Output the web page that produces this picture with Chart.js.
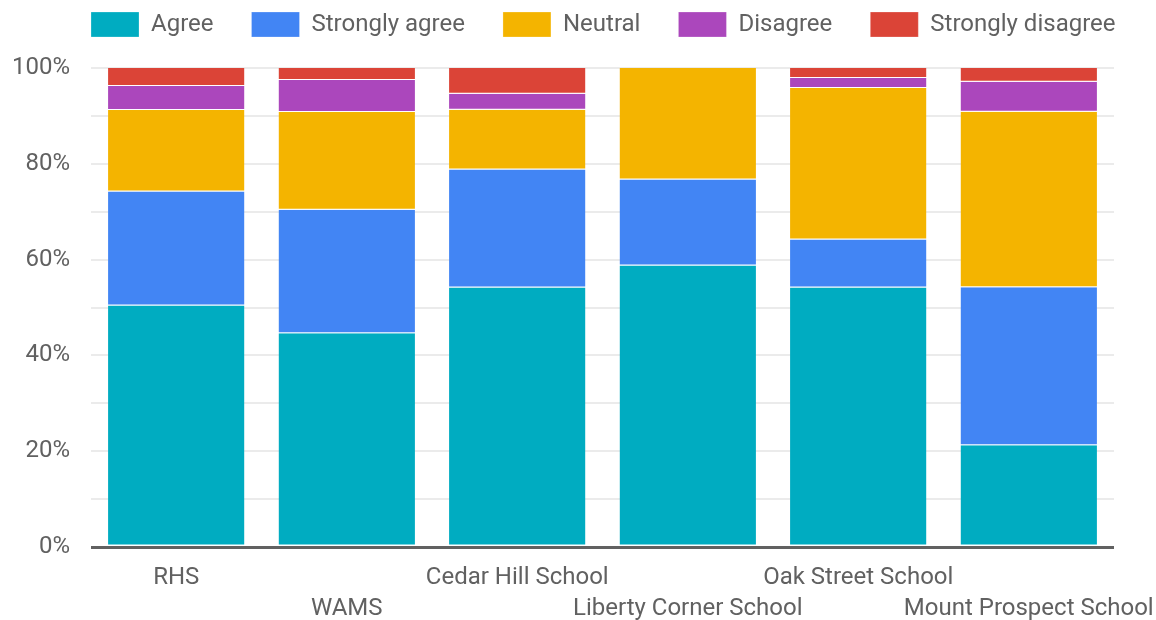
<!DOCTYPE html>
<html>
<head>
<meta charset="utf-8">
<script src="https://cdn.jsdelivr.net/npm/chart.js@4"></script>
<style>
  html, body { margin: 0; padding: 0; background: #fff; }
  #wrap { width: 1156px; height: 620px; }
</style>
</head>
<body>
<div id="wrap"><canvas id="grafico"></canvas></div>
<script>
// datos
var escuelas = ['RHS', 'WAMS', 'Cedar Hill School', 'Liberty Corner School', 'Oak Street School', 'Mount Prospect School'];
var agree = [50.4, 44.6, 54.2, 58.75, 54.2, 21.25];
var stronglyAgree = [23.8, 25.8, 24.6, 17.95, 10.0, 33.0];
var neutral = [17.05, 20.4, 12.5, 23.3, 31.6, 36.6];
var disagree = [5.0, 6.7, 3.35, 0, 2.1, 6.3];
var stronglyDisagree = [3.75, 2.5, 5.4, 0, 2.1, 2.9];
var yTicks = [0, 20, 40, 60, 80, 100];

var gris = '#616161';
Chart.defaults.font.family = 'Roboto';
Chart.defaults.font.size = 24;
Chart.defaults.color = gris;

function serie(label, data, color) {
    return {
        label: label,
        data: data,
        backgroundColor: color,
        borderColor: '#ffffff',
        borderWidth: { top: 0, bottom: 1, left: 0, right: 0 },
        borderSkipped: false,
        barPercentage: 0.8,
        categoryPercentage: 1.0
    };
}

// ajusta la altura y la posicion de la leyenda (una sola fila)
var ajusteLeyenda = {
    id: 'ajusteLeyenda',
    beforeInit: function (chart) {
        var fit = chart.legend.fit;
        chart.legend.fit = function () {
            this.maxWidth = 3000;
            fit.bind(chart.legend)();
            this.height = 94;
        };
    },
    afterLayout: function (chart) {
        chart.legend.left = 53;
        chart.legend.right = 1400;
        chart.legend.width = 1347;
    }
};

var ctx = document.getElementById('grafico').getContext('2d');
new Chart(ctx, {
    type: 'bar',
    data: {
        labels: escuelas,
        datasets: [
            serie('Agree', agree, '#00ACC1'),
            serie('Strongly agree', stronglyAgree, '#4285F4'),
            serie('Neutral', neutral, '#F4B400'),
            serie('Disagree', disagree, '#AB47BC'),
            serie('Strongly disagree', stronglyDisagree, '#DB4437')
        ]
    },
    plugins: [ajusteLeyenda],
    options: {
        responsive: true,
        maintainAspectRatio: false,
        animation: false,
        layout: { padding: { top: -26, left: 0, right: 42, bottom: 0 } },
        plugins: {
            legend: {
                position: 'top',
                align: 'start',
                labels: { boxWidth: 48, boxHeight: 25, padding: 38, color: gris }
            },
            tooltip: { enabled: false }
        },
        scales: {
            x: {
                stacked: true,
                grid: { display: false, drawTicks: false },
                border: { display: false },
                ticks: {
                    maxRotation: 0,
                    autoSkip: false,
                    padding: 15,
                    font: { lineHeight: 1.3 },
                    callback: function (v, i) {
                        var t = escuelas[i];
                        return i % 2 === 1 ? ['', t] : t;
                    }
                },
                afterFit: function (scale) {
                    scale.height = 73;
                    scale.paddingLeft = 0;
                    scale.paddingRight = 0;
                }
            },
            y: {
                stacked: true,
                min: 0,
                max: 100,
                border: { display: false },
                grid: {
                    drawTicks: false,
                    color: function (c) { return c.tick && c.tick.value === 0 ? gris : '#ebebeb'; },
                    lineWidth: function (c) { return c.tick && c.tick.value === 0 ? 3 : 2; }
                },
                ticks: {
                    stepSize: 10,
                    autoSkip: false,
                    padding: 21,
                    callback: function (v) { return yTicks.indexOf(v) >= 0 ? v + '%' : ''; }
                },
                afterFit: function (scale) { scale.width = 91; }
            }
        }
    }
});
</script>
</body>
</html>
